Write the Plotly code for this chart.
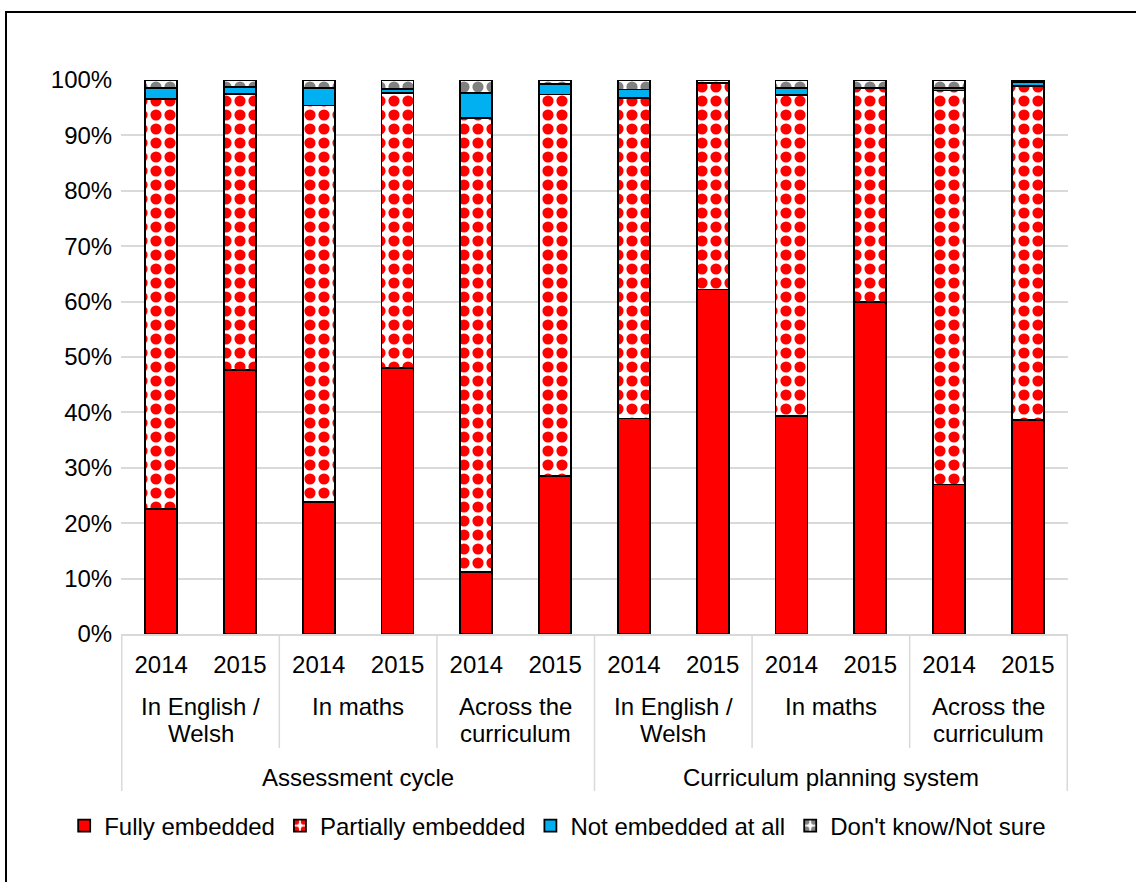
import plotly.graph_objects as go

groups = ["Assessment cycle"] * 6 + ["Curriculum planning system"] * 6
subjects = ["In English / Welsh", "In English / Welsh", "In maths", "In maths",
            "Across the curriculum", "Across the curriculum"] * 2
years = ["2014", "2015"] * 6

fully = [22.5, 47.6, 23.8, 48.0, 11.2, 28.5, 38.9, 62.2, 39.3, 59.9, 27.0, 38.6]
partially = [74.0, 49.9, 71.6, 49.7, 81.9, 68.9, 57.8, 37.2, 58.0, 38.7, 71.1, 60.3]
not_at_all = [2.1, 1.2, 3.2, 0.7, 4.6, 1.9, 1.6, 0.0, 1.3, 0.0, 0.5, 0.7]
dont_know = [1.4, 1.3, 1.4, 1.6, 2.3, 0.7, 1.7, 0.6, 1.4, 1.4, 1.4, 0.4]

subject_labels = [["In English /", "Welsh"], ["In maths"], ["Across the", "curriculum"]] * 2
group_labels = ["Assessment cycle", "Curriculum planning system"]

FONT = "Arial, 'Liberation Sans', sans-serif"
FS = 24
cats = [g + " | " + s + " | " + y for g, s, y in zip(groups, subjects, years)]
edge = dict(color="black", width=1.8)

fig = go.Figure()
fig.add_bar(x=cats, y=fully, name="Fully embedded",
            marker=dict(color="#ff0000", line=edge))
fig.add_bar(x=cats, y=partially, name="Partially embedded",
            marker=dict(color="white", line=edge,
                        pattern=dict(shape=".", fgcolor="#ff0000", bgcolor="white",
                                     fgopacity=1, size=14, solidity=0.5)))
fig.add_bar(x=cats, y=not_at_all, name="Not embedded at all",
            marker=dict(color="#00b0f0", line=edge))
fig.add_bar(x=cats, y=dont_know, name="Don't know/Not sure",
            marker=dict(color="white", line=edge,
                        pattern=dict(shape=".", fgcolor="#808080", bgcolor="white",
                                     fgopacity=1, size=14, solidity=0.5)))

# pixel -> paper (plot area spans y 80..634)
def py(p):
    return (634 - p) / 554.0

for i, lines in enumerate(subject_labels):
    for k, line in enumerate(lines):
        fig.add_annotation(x=2 * i + 0.5, y=py(706 + 27 * k), xref="x", yref="paper",
                           text=line, showarrow=False, yanchor="middle", xanchor="center",
                           font=dict(family=FONT, size=FS, color="black"))
for i, lab in enumerate(group_labels):
    fig.add_annotation(x=6 * i + 2.5, y=py(777), xref="x", yref="paper", text=lab,
                       showarrow=False, yanchor="middle", xanchor="center",
                       font=dict(family=FONT, size=FS, color="black"))

# dividers between the label groups
for xb in [-0.5, 5.5, 11.5]:
    fig.add_shape(type="line", xref="x", yref="paper", x0=xb, x1=xb, y0=0, y1=py(791),
                  line=dict(color="#d9d9d9", width=1.5))
for xb in [1.5, 3.5, 7.5, 9.5]:
    fig.add_shape(type="line", xref="x", yref="paper", x0=xb, x1=xb, y0=0, y1=py(748),
                  line=dict(color="#d9d9d9", width=1.5))

# chart frame
fig.add_shape(type="rect", xref="paper", yref="paper",
              x0=(6 - 121) / 947.0, x1=1.3, y0=py(12), y1=-0.6,
              line=dict(color="black", width=2), fillcolor="rgba(0,0,0,0)")

fig.update_layout(
    width=1136, height=882,
    margin=dict(l=121, r=68, t=80, b=248),
    barmode="stack", bargap=0.594,
    plot_bgcolor="white", paper_bgcolor="white",
    font=dict(family=FONT, size=FS, color="black"),
    legend=dict(orientation="h", x=-0.06, xanchor="left", y=py(826), yanchor="middle",
                font=dict(family=FONT, size=FS, color="black"), traceorder="normal",
                itemwidth=30, tracegroupgap=0),
)
fig.update_xaxes(type="category", tickvals=cats, ticktext=years, showgrid=False,
                 showline=True, linecolor="#d9d9d9", linewidth=1.5,
                 ticks="outside", ticklen=8, tickcolor="rgba(0,0,0,0)")
fig.update_yaxes(range=[0, 100], dtick=10, ticksuffix="%", showgrid=True,
                 gridcolor="#d9d9d9", gridwidth=1.5, zeroline=False,
                 ticks="outside", ticklen=3, tickcolor="rgba(0,0,0,0)")

fig.write_html("out.html", config={"displayModeBar": False},
               post_script="document.body.style.margin='0';")
